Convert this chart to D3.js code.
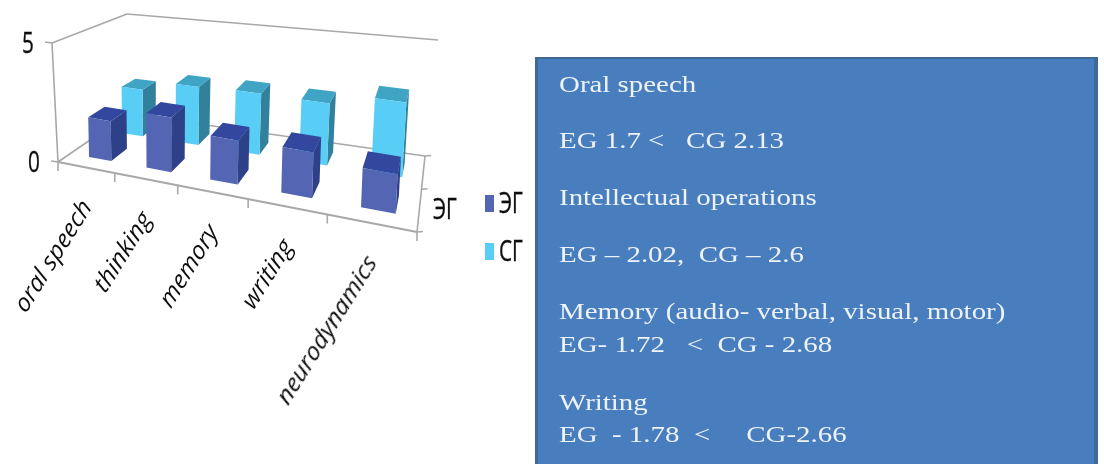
<!DOCTYPE html>
<html>
<head>
<meta charset="utf-8">
<script src="https://cdn.jsdelivr.net/npm/d3@7"></script>
<style>
  html, body { margin: 0; padding: 0; background: #fff; }
  svg { display: block; }
  .cat { font: italic 23px "Open Sans", sans-serif; fill: #111; }
  .tall { font: 26px "Open Sans", sans-serif; fill: #111; stroke: #111; stroke-width: 0.3; }
  .note { font: 24px "Liberation Serif", serif; fill: #eef3fa; }
</style>
</head>
<body>
<svg id="chart" width="1104" height="464"></svg>
<script>
const categories = ['oral speech', 'thinking', 'memory', 'writing', 'neurodynamics'];
const seriesNames = ['ЭГ', 'СГ'];
const egValues = [1.7, 2.3, 1.82, 1.88, 1.6];
const cgValues = [2.13, 2.6, 2.68, 2.66, 3.15];
const valueTicks = [0, 5];
const noteLines = [
  'Oral speech',
  'EG 1.7 <   CG 2.13',
  'Intellectual operations',
  'EG – 2.02,  CG – 2.6',
  'Memory (audio- verbal, visual, motor)',
  'EG- 1.72   <  CG - 2.68',
  'Writing',
  'EG  - 1.78  <     CG-2.66'
];
const noteBaselines = [92, 148, 205, 262, 319, 352, 410, 442];

const width = 1104, height = 464;

// corners of the 3d box as they land on the picture
const floorQuad = [[58, 162], [417, 232], [425, 156], [128, 114]];
const roofQuad = [[52, 43], [427, 107], [438, 40], [127, 14]];
const barLean = 0.6;

// maps the unit square onto a quad (perspective)
function quadMap(q) {
  const [[x0, y0], [x1, y1], [x2, y2], [x3, y3]] = q;
  const dx1 = x1 - x2, dx2 = x3 - x2, dx3 = x0 - x1 + x2 - x3;
  const dy1 = y1 - y2, dy2 = y3 - y2, dy3 = y0 - y1 + y2 - y3;
  const det = dx1 * dy2 - dx2 * dy1;
  const g = (dx3 * dy2 - dx2 * dy3) / det;
  const h = (dx1 * dy3 - dx3 * dy1) / det;
  const a = x1 - x0 + g * x1, b = x3 - x0 + h * x3;
  const d = y1 - y0 + g * y1, e = y3 - y0 + h * y3;
  return (u, v) => {
    const w = g * u + h * v + 1;
    return [(a * u + b * v + x0) / w, (d * u + e * v + y0) / w];
  };
}
const floorAt = quadMap(floorQuad);

// full-height vector at each corner, blended so the bars stay upright
const riseAt = (u, d) => [0, 1].map(k => {
  const r = i => roofQuad[i][k] - floorQuad[i][k];
  return (r(0) * (1 - u) + r(1) * u) * (1 - d) + (r(3) * (1 - u) + r(2) * u) * d;
});

const xScale = d3.scaleBand().domain(categories).range([0, 1])
  .paddingInner(0.6).paddingOuter(0.3).align(0.58);
const catStep = d3.scaleBand().domain(categories).range([0, 1]);
const depthScale = d3.scaleBand().domain(seriesNames).range([0.15, 0.84])
  .paddingInner(0.53).paddingOuter(0);
const yScale = d3.scaleLinear().domain([0, 5]).range([0, 1]);

// u across categories, d into the chart, val in data units
function project(u, d, val, lean = 1) {
  const f = floorAt(u, d), r = riseAt(u, d), k = yScale(val);
  return [f[0] + r[0] * k * lean, f[1] + r[1] * k];
}

const svg = d3.select('#chart');
svg.append('defs').append('filter').attr('id', 'soft')
  .append('feGaussianBlur').attr('stdDeviation', 0.45);

const chart = svg.append('g').attr('filter', 'url(#soft)');
const line = d3.line();
const axisColor = '#a8a8a8';

function seg(a, b, w) {
  chart.append('path').attr('d', line([a, b]))
    .attr('fill', 'none').attr('stroke', axisColor).attr('stroke-width', w || 1.6);
}

// walls and floor
seg(project(0, 0, 0), project(0, 0, 5));
seg(project(0, 0, 5), project(0, 1, 5));
seg(project(0, 1, 5), project(1, 1, 5));
seg(project(0, 0, 0), project(0, 1, 0));
seg(project(0, 1, 0), project(1, 1, 0));
seg(project(1, 1, 0), project(1, 0, 0));
seg(project(0, 0, 0), project(1, 0, 0), 2);

// value ticks
valueTicks.forEach(v => {
  const p = project(0, 0, v);
  seg([p[0] - 7, p[1] - 1], p);
});
// category ticks
d3.range(categories.length + 1).forEach(i => {
  const p = project(i / categories.length, 0, 0);
  seg(p, [p[0], p[1] + 9]);
});
// depth ticks
[0, 0.5, 1].forEach(d => {
  const p = project(1, d, 0);
  seg(p, [p[0] + 6, p[1] - 0.5]);
});

const palette = {
  'ЭГ': {front: '#5365b3', side: '#2f3f87', top: '#33479d'},
  'СГ': {front: '#59cdf5', side: '#33819c', top: '#40a4c4'}
};
const rows = [
  {name: 'СГ', values: cgValues},
  {name: 'ЭГ', values: egValues}
];

rows.forEach(row => {
  const c = palette[row.name];
  const d0 = depthScale(row.name), d1 = d0 + depthScale.bandwidth();
  categories.forEach((cat, i) => {
    const u0 = xScale(cat), u1 = u0 + xScale.bandwidth(), v = row.values[i];
    const g = chart.append('g');
    const pt = (u, d, val) => project(u, d, val, barLean);
    const face = (pts, fill) => g.append('path')
      .attr('d', line(pts) + 'Z').attr('fill', fill);
    face([pt(u1, d0, 0), pt(u1, d1, 0), pt(u1, d1, v), pt(u1, d0, v)], c.side);
    face([pt(u0, d0, v), pt(u1, d0, v), pt(u1, d1, v), pt(u0, d1, v)], c.top);
    face([pt(u0, d0, 0), pt(u1, d0, 0), pt(u1, d0, v), pt(u0, d0, v)], c.front);
  });
});

// category labels, anchored under the middle of each step
categories.forEach(cat => {
  const p = project(catStep(cat) + catStep.bandwidth() / 2, 0, 0);
  chart.append('text').attr('class', 'cat')
    .attr('text-anchor', 'end')
    .attr('transform', `translate(${p[0] + 7},${p[1] + 40}) scale(1,1.12) rotate(-55)`)
    .text(cat);
});

function tallText(x, y, str) {
  chart.append('text').attr('class', 'tall')
    .attr('transform', `translate(${x},${y}) scale(0.8,1.15)`)
    .text(str);
}
tallText(22, 53, '5');
tallText(28, 172, '0');
tallText(433, 219, seriesNames[0]);

// legend
const legendY = d3.scaleBand().domain(seriesNames).range([180, 276]);
seriesNames.forEach(name => {
  const y = legendY(name) + legendY.bandwidth() / 2;
  chart.append('rect').attr('x', 485).attr('y', y - 9).attr('width', 9).attr('height', 17)
    .attr('fill', palette[name].front);
  tallText(499, y + 9, name);
});

// text panel
const panel = svg.append('g').attr('filter', 'url(#soft)');
panel.append('rect').attr('x', 535).attr('y', 57).attr('width', 563).attr('height', 420)
  .attr('fill', '#3f6796');
panel.append('rect').attr('x', 538).attr('y', 59).attr('width', 556).attr('height', 420)
  .attr('fill', '#4a7ebe');
panel.selectAll('text.note').data(noteLines).join('text')
  .attr('class', 'note')
  .attr('transform', (d, i) => `translate(559,${noteBaselines[i]}) scale(1.205,1)`)
  .style('white-space', 'pre')
  .text(d => d);
</script>
</body>
</html>
